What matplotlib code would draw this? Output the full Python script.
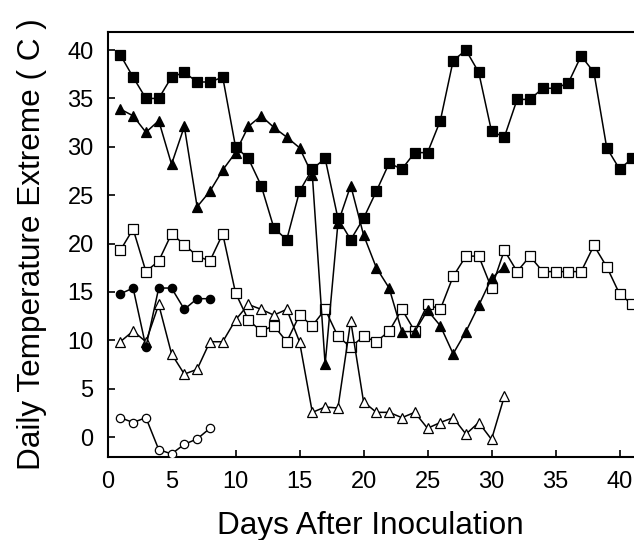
import matplotlib
matplotlib.use("Agg")
import matplotlib.pyplot as plt

plt.rcParams['font.family'] = ['Liberation Sans', 'DejaVu Sans']

days_a = list(range(1, 42))
max_sq = [39.5, 37.2, 35.0, 35.0, 37.2, 37.7, 36.7, 36.7, 37.2, 30.0,
          28.8, 26.0, 21.6, 20.4, 25.4, 27.7, 28.8, 22.6, 20.4, 22.6,
          25.4, 28.3, 27.7, 29.4, 29.4, 32.7, 38.9, 40.0, 37.7, 31.6,
          31.0, 34.9, 34.9, 36.05, 36.05, 36.6, 39.4, 37.7, 29.9, 27.7, 28.8]
min_sq = [19.3, 21.5, 17.1, 18.2, 21.0, 19.9, 18.7, 18.2, 21.0, 14.9,
          12.1, 10.95, 11.5, 9.85, 12.6, 11.5, 13.2, 10.4, 9.3, 10.4,
          9.85, 10.95, 13.2, 10.95, 13.7, 13.2, 16.6, 18.7, 18.7, 15.4,
          19.3, 17.1, 18.7, 17.1, 17.1, 17.1, 17.1, 19.8, 17.6, 14.8, 13.7]

days_b = list(range(1, 32))
max_tri = [33.9, 33.2, 31.5, 32.7, 28.2, 32.1, 23.8, 25.4, 27.6, 29.4,
           32.1, 33.2, 32.0, 31.0, 29.9, 27.1, 7.5, 22.1, 26.0, 20.9,
           17.5, 15.4, 10.9, 10.9, 13.1, 11.5, 8.6, 10.9, 13.6, 16.4, 17.6]
min_tri = [9.85, 10.95, 9.85, 13.7, 8.6, 6.5, 7.0, 9.85, 9.85, 12.1,
           13.7, 13.2, 12.6, 13.2, 9.85, 2.55, 3.1, 3.0, 12.0, 3.65,
           2.55, 2.55, 2.0, 2.55, 0.9, 1.5, 2.0, 0.3, 1.5, -0.25, 4.2]

days_c = list(range(1, 9))
max_circ = [14.8, 15.4, 9.3, 15.4, 15.4, 13.2, 14.3, 14.3]
min_circ = [2.0, 1.5, 2.0, -1.3, -1.75, -0.75, -0.2, 0.9]

xticks = [0, 5, 10, 15, 20, 25, 30, 35, 40]
yticks = [0, 5, 10, 15, 20, 25, 30, 35, 40]

fig = plt.figure(figsize=(6.34, 5.40), dpi=100)
# axes extends past the right edge of the figure (right spine cut off, as in the reference)
ax_w = 0.86
px_per_day = 12.8
ax = fig.add_axes([0.1696, 0.1531, ax_w, 0.7882])

lw = 1.1
common = dict(color='black', linewidth=lw, markeredgecolor='black', markeredgewidth=0.9)
ax.plot(days_a, max_sq, marker='s', markersize=6.5, markerfacecolor='black', **common, zorder=3)
ax.plot(days_a, min_sq, marker='s', markersize=6.5, markerfacecolor='white', **common, zorder=3)
ax.plot(days_b, max_tri, marker='^', markersize=6.5, markerfacecolor='black', **common, zorder=3)
ax.plot(days_b, min_tri, marker='^', markersize=6.5, markerfacecolor='white', **common, zorder=3)
ax.plot(days_c, max_circ, marker='o', markersize=6, markerfacecolor='black', **common, zorder=3)
ax.plot(days_c, min_circ, marker='o', markersize=6, markerfacecolor='white', **common, zorder=3)

ax.set_xlim(0, ax_w * 634 / px_per_day)
ax.set_ylim(-2.1, 41.9)
ax.set_xticks(xticks)
ax.set_yticks(yticks)
ax.tick_params(direction='in', length=5, width=1.2, labelsize=17, pad=10)
for s in ax.spines.values():
    s.set_linewidth(1.5)

ax.set_xlabel('Days After Inoculation', fontsize=22.7, labelpad=11)
ax.set_ylabel('Daily Temperature Extreme ( C )', fontsize=22.7, labelpad=15)
# keep the x label centred where it sits in the reference (middle of the visible plot)
ax.xaxis.set_label_coords((634 * (1 - 0.1696) / 2) / (ax_w * 634), -0.1)
ax.xaxis.label.set_va('top')
ax.xaxis.set_label_coords(((370 - 0.1696 * 634) / (ax_w * 634)), -0.125)

fig.savefig('out.png', dpi=100)
